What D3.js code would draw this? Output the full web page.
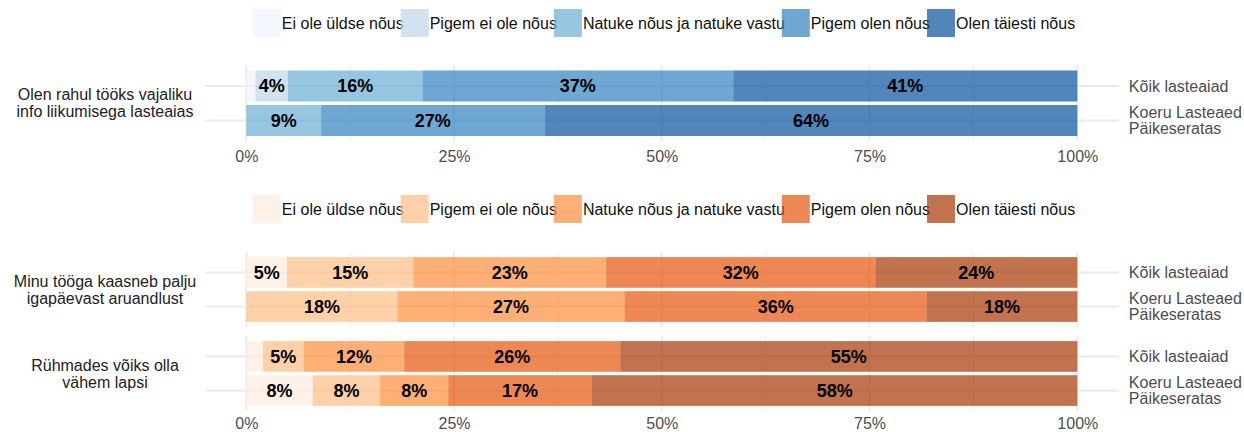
<!DOCTYPE html>
<html>
<head>
<meta charset="utf-8">
<script src="https://cdn.jsdelivr.net/npm/d3@7"></script>
<style>
    body { margin: 0; background: #fff; }
    text { font-family: "Liberation Sans", Arial, sans-serif; }
</style>
</head>
<body>
<svg id="chart"></svg>
<script>
// answer categories, in stacking order
let categories = ['Ei ole üldse nõus', 'Pigem ei ole nõus', 'Natuke nõus ja natuke vastu', 'Pigem olen nõus', 'Olen täiesti nõus'];
let groups = ['Kõik lasteaiad', 'Koeru Lasteaed\nPäikeseratas'];

let xTicks = [0, 25, 50, 75, 100];
let xMinor = [12.5, 37.5, 62.5, 87.5];

// percentages per group, one number per category
let infoQuestion = 'Olen rahul tööks vajaliku\ninfo liikumisega lasteaias';
let infoValues = [[1.1, 3.9, 16.2, 37.4, 41.4], [0, 0, 9.0, 26.9, 64.1]];

let reportQuestion = 'Minu tööga kaasneb palju\nigapäevast aruandlust';
let reportValues = [[4.9, 15.2, 23.2, 32.4, 24.3], [0, 18.2, 27.3, 36.4, 18.1]];

let childrenQuestion = 'Rühmades võiks olla\nvähem lapsi';
let childrenValues = [[2.0, 4.9, 12.1, 26.0, 55.0], [8.0, 8.1, 8.2, 17.3, 58.4]];

let blues = ['#eff3ff', '#bdd7e7', '#6baed6', '#3182bd', '#08519c'];
let oranges = ['#feedde', '#fdbe85', '#fd8d3c', '#e6550d', '#a63603'];

let w = 1244, h = 432;
let svg = d3.select('#chart').attr('width', w).attr('height', h);

let x = d3.scaleLinear().domain([0, 100]).range([246.3, 1077.3]);
let panelLeft = x(-5), panelRight = x(105);
let grid = '#ebebeb';

function drawLegend(color, cy) {
    let lg = svg.append('g');
    let pos = 0;
    categories.forEach(c => {
        lg.append('rect')
            .attr('x', pos).attr('y', cy - 14)
            .attr('width', 28).attr('height', 28)
            .attr('fill', color(c)).attr('fill-opacity', 0.7);
        let t = lg.append('text')
            .attr('x', pos + 29).attr('y', cy).attr('dy', '0.35em')
            .attr('font-size', 16).attr('fill', '#111')
            .text(c);
        pos += 29 + t.node().getComputedTextLength() - 3;
    });
    let total = pos + 3;
    lg.attr('transform', `translate(${664 - total / 2}, 0)`);
}

function drawPanel(question, values, color, y0, y1) {
    let y = d3.scaleBand().domain(groups).range([y0, y1])
        .paddingInner(0.1).paddingOuter(0.15);
    let g = svg.append('g');

    g.selectAll('.minor').data(xMinor).enter().append('line')
        .attr('x1', d => x(d)).attr('x2', d => x(d))
        .attr('y1', y0).attr('y2', y1)
        .attr('stroke', grid).attr('stroke-width', 1);

    g.selectAll('.major').data(xTicks).enter().append('line')
        .attr('x1', d => x(d)).attr('x2', d => x(d))
        .attr('y1', y0).attr('y2', y1)
        .attr('stroke', grid).attr('stroke-width', 2);

    g.selectAll('.hgrid').data(groups).enter().append('line')
        .attr('x1', panelLeft).attr('x2', panelRight)
        .attr('y1', d => y(d) + y.bandwidth() / 2)
        .attr('y2', d => y(d) + y.bandwidth() / 2)
        .attr('stroke', grid).attr('stroke-width', 2);

    let rows = groups.map((grp, i) => {
        let r = { group: grp };
        categories.forEach((c, j) => r[c] = values[i][j]);
        return r;
    });
    let stacked = d3.stack().keys(categories)(rows);

    let layer = g.selectAll('.layer').data(stacked).enter().append('g')
        .attr('fill', d => color(d.key))
        .attr('fill-opacity', 0.7);

    layer.selectAll('rect').data(d => d).enter().append('rect')
        .attr('x', d => x(d[0]))
        .attr('width', d => x(d[1]) - x(d[0]))
        .attr('y', d => y(d.data.group))
        .attr('height', y.bandwidth());

    let labels = [];
    stacked.forEach(s => s.forEach(d => {
        if (d[1] - d[0] >= 3) labels.push(d);
    }));
    g.selectAll('.lbl').data(labels).enter().append('text')
        .attr('x', d => x((d[0] + d[1]) / 2))
        .attr('y', d => y(d.data.group) + y.bandwidth() / 2)
        .attr('dy', '0.36em')
        .attr('text-anchor', 'middle')
        .attr('font-size', 18).attr('font-weight', 'bold')
        .attr('fill', '#000')
        .text(d => Math.round(d[1] - d[0]) + '%');

    // group names on the right
    let $yAxis = g.append('g')
        .attr('transform', `translate(${panelRight}, 0)`)
        .call(d3.axisRight(y).tickSize(0).tickPadding(10));
    $yAxis.select('.domain').remove();
    $yAxis.selectAll('.tick text')
        .attr('font-size', 16).attr('fill', '#4d4d4d')
        .attr('font-family', null)
        .each(function(d) {
            let lines = d.split('\n');
            let t = d3.select(this).text(null).attr('dy', null);
            lines.forEach((l, i) => {
                t.append('tspan')
                    .attr('x', 10)
                    .attr('dy', i === 0 ? (0.35 - (lines.length - 1) / 2) + 'em' : '1em')
                    .text(l);
            });
        });

    // question on the left
    let qLines = question.split('\n');
    let q = g.append('text')
        .attr('x', 105).attr('y', (y0 + y1) / 2)
        .attr('text-anchor', 'middle')
        .attr('font-size', 16).attr('fill', '#222');
    qLines.forEach((l, i) => {
        q.append('tspan')
            .attr('x', 105)
            .attr('dy', i === 0 ? (0.35 - (qLines.length - 1) / 2 * 1.05) + 'em' : '1.05em')
            .text(l);
    });
}

function drawXAxis(yPos, pad) {
    let $xAxis = svg.append('g')
        .attr('transform', `translate(0, ${yPos})`)
        .call(d3.axisBottom(x).tickValues(xTicks).tickFormat(d => d + '%').tickSize(0).tickPadding(pad));
    $xAxis.select('.domain').remove();
    $xAxis.selectAll('text')
        .attr('font-size', 16).attr('fill', '#4d4d4d')
        .attr('font-family', null);
}

let blueScale = d3.scaleOrdinal().domain(categories).range(blues);
let orangeScale = d3.scaleOrdinal().domain(categories).range(oranges);

drawLegend(blueScale, 23);
drawPanel(infoQuestion, infoValues, blueScale, 65.3, 141.2);
drawXAxis(141.2, 9);

drawLegend(orangeScale, 209);
drawPanel(reportQuestion, reportValues, orangeScale, 252, 327);
drawPanel(childrenQuestion, childrenValues, orangeScale, 336, 411);
drawXAxis(411, 6.5);
</script>
</body>
</html>
